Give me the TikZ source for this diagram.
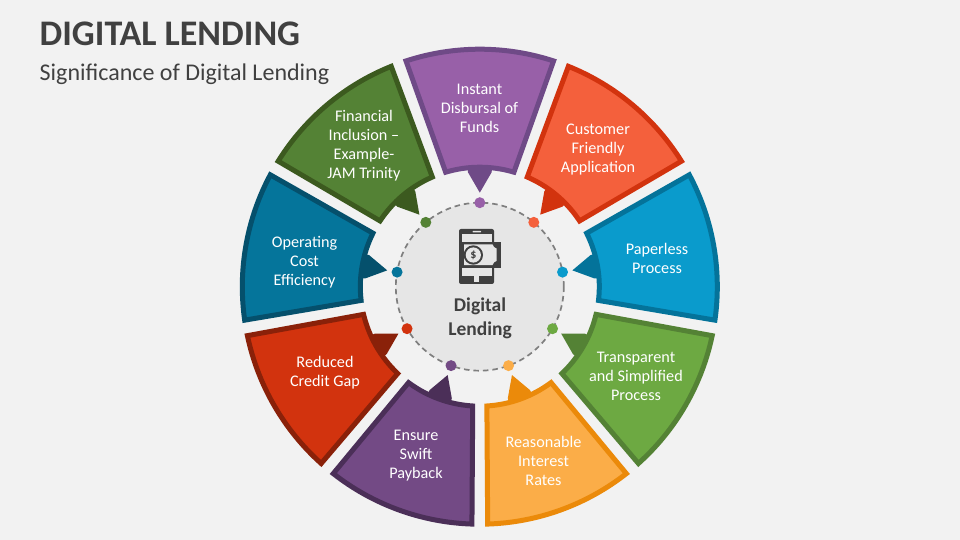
\documentclass[tikz,border=0pt]{standalone}
\usepackage{fontspec}
\setmainfont{Carlito}
\definecolor{bgc}{HTML}{F2F2F2}
\definecolor{ink}{HTML}{404040}
\definecolor{hubc}{HTML}{E6E6E6}
\definecolor{dashc}{HTML}{7F7F7F}
\definecolor{fA}{HTML}{9860A8}\definecolor{bA}{HTML}{6F4A87}
\definecolor{fB}{HTML}{F4603C}\definecolor{bB}{HTML}{D2330E}
\definecolor{fC}{HTML}{0A9BCC}\definecolor{bC}{HTML}{04739A}
\definecolor{fD}{HTML}{6DA942}\definecolor{bD}{HTML}{548235}
\definecolor{fE}{HTML}{FBAD48}\definecolor{bE}{HTML}{EB8A0A}
\definecolor{fF}{HTML}{734A85}\definecolor{bF}{HTML}{4B2F58}
\definecolor{fG}{HTML}{D2330E}\definecolor{bG}{HTML}{8A2109}
\definecolor{fH}{HTML}{05759B}\definecolor{bH}{HTML}{05506C}
\definecolor{fI}{HTML}{548235}\definecolor{bI}{HTML}{3C5A1F}
\tikzset{
  seglabel/.style={text=white,align=center,inner sep=0pt,font=\fontsize{16.2}{19}\selectfont},
  hublabel/.style={text=ink,align=center,inner sep=0pt,font=\bfseries\fontsize{19.5}{24}\selectfont},
  dotmark/.style={circle,inner sep=0pt,minimum size=11pt},
  segband/.style={line width=5pt,line join=miter,miter limit=10}
}
\newcommand{\petal}[3]{%
  \fill[#3] (#1+5.9:115) -- (#1:94) -- (#1-5.9:115) -- (#1-5.9:124) -- (#1+5.9:124) -- cycle;
  \path[segband,fill=#2,draw=#3]
    (#1-18.1:237.5) arc[start angle=#1-18.1,end angle=#1+18.1,radius=237.5]
    -- (#1+16.6:119.5) arc[start angle=#1+16.6,end angle=#1-16.6,radius=119.5] -- cycle;
}
\begin{document}
\begin{tikzpicture}[x=1pt,y=1pt]
\useasboundingbox (0,0) rectangle (960,540);
\fill[bgc] (0,0) rectangle (960,540);
\node[anchor=base west,inner sep=0pt,text=ink,font=\bfseries\fontsize{36}{40}\selectfont] (title) at (39.5,494.5) {DIGITAL LENDING};
\node[anchor=base west,inner sep=0pt,text=ink,font=\fontsize{24}{28}\selectfont] (subtitle) at (39.5,459) {Significance of Digital Lending};
\begin{scope}[shift={(479.8,253.3)}]
  \petal{90}{fA}{bA}
  \petal{50}{fB}{bB}
  \petal{10}{fC}{bC}
  \petal{-30}{fD}{bD}
  \petal{-70}{fE}{bE}
  \petal{-110}{fF}{bF}
  \petal{-150}{fG}{bG}
  \petal{170}{fH}{bH}
  \petal{130}{fI}{bI}
  \fill[hubc] (0,0) circle[radius=84];
  \draw[dashc,line width=1.7pt,dash pattern=on 5.5pt off 4pt] (0,0) circle[radius=84];
  \node[dotmark,fill=fA] (dotA) at (90:84) {};
  \node[dotmark,fill=fB] (dotB) at (50:84) {};
  \node[dotmark,fill=fC] (dotC) at (10:84) {};
  \node[dotmark,fill=fD] (dotD) at (-30:84) {};
  \node[dotmark,fill=fE] (dotE) at (-70:84) {};
  \node[dotmark,fill=fF] (dotF) at (-110:84) {};
  \node[dotmark,fill=fG] (dotG) at (-150:84) {};
  \node[dotmark,fill=fH] (dotH) at (170:84) {};
  \node[dotmark,fill=fI] (dotI) at (130:84) {};
\end{scope}
% phone icon
\fill[ink,rounded corners=2pt] (459,311) rectangle (494,256);
\fill[hubc] (461.7,306) rectangle (491.7,264);
\fill[hubc,rounded corners=0.7pt] (472.5,309.2) rectangle (481,307.5);
\fill[hubc] (473.8,264) -- (479.4,264) -- (479.4,258) -- (473.8,258) -- cycle;
\fill[ink] (462,298.3) rectangle (501,272.3);
\fill[hubc] (464,295.7) -- (492.5,295.7) .. controls (493,293.5) and (494.5,292) .. (496.5,291.5)
  -- (496.5,279) .. controls (494.5,278.5) and (493,277) .. (492.5,274.8) -- (464,274.8) -- cycle;
\fill[ink] (473.3,285) circle[radius=9.7];
\fill[hubc] (473.3,285) circle[radius=7.6];
\node[inner sep=0pt,text=ink,font=\bfseries\fontsize{12}{12}\selectfont] (dollar) at (473.3,285) {\$};
\node[hublabel] (hub) at (480,222) {Digital\\Lending};
\node[seglabel] (lA) at (479.5,432) {Instant\\Disbursal of\\Funds};
\node[seglabel] (lB) at (598,390.5) {Customer\\Friendly\\Application};
\node[seglabel] (lC) at (657,281.5) {Paperless\\Process};
\node[seglabel] (lD) at (636,164) {Transparent\\and Simplified\\Process};
\node[seglabel] (lE) at (543.5,79) {Reasonable\\Interest\\Rates};
\node[seglabel] (lF) at (416,84) {Ensure\\Swift\\Payback};
\node[seglabel] (lG) at (325,167.5) {Reduced\\Credit Gap};
\node[seglabel] (lH) at (304.5,277.5) {Operating\\Cost\\Efficiency};
\node[seglabel] (lI) at (364,394) {Financial\\Inclusion –\\Example-\\JAM Trinity};
\end{tikzpicture}
\end{document}
